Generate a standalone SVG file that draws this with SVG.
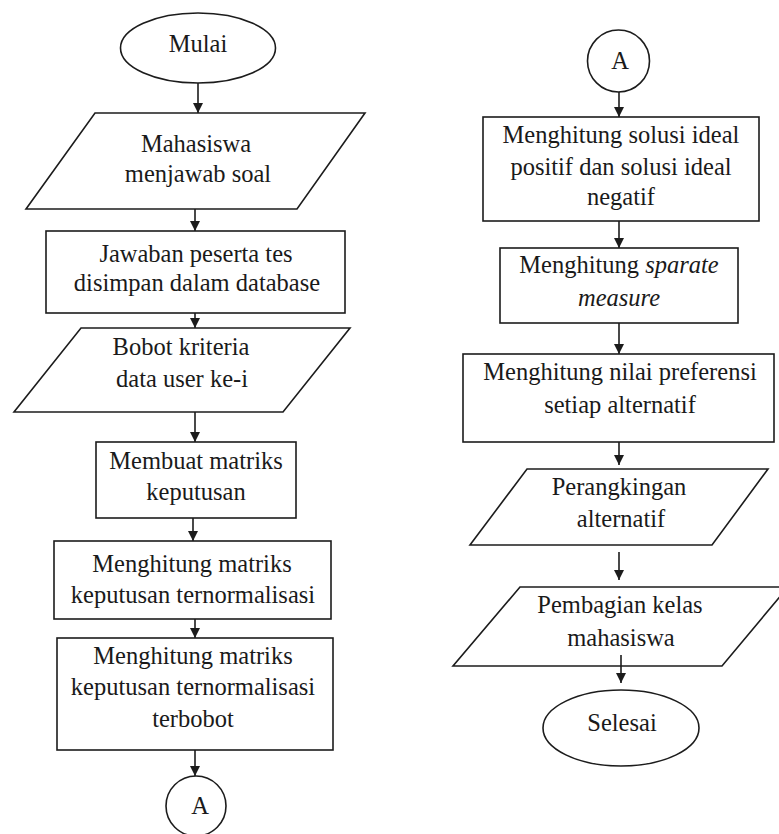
<svg xmlns="http://www.w3.org/2000/svg" width="779" height="834" viewBox="0 0 779 834">
  <style>
    .shape { fill: #ffffff; stroke: #1c1c1c; stroke-width: 1.6; }
    .label { font-family: 'Liberation Serif', 'DejaVu Serif', serif; font-size: 24.5px; fill: #1a1a1a; text-anchor: middle; }
    .it { font-style: italic; }
    .link { stroke: #1c1c1c; stroke-width: 1.6; fill: none; marker-end: url(#head); }
  </style>
  <defs>
    <marker id="head" markerUnits="userSpaceOnUse" markerWidth="10" markerHeight="10" refX="10" refY="5" orient="auto" viewBox="0 0 10 10">
      <path d="M0,0 L10,5 L0,10 z" fill="#1c1c1c"/>
    </marker>
  </defs>
  <rect width="779" height="834" fill="#ffffff"/>

  <!-- left column -->
  <g id="mulai">
    <ellipse class="shape" cx="198" cy="48" rx="77.5" ry="35"/>
    <text class="label" x="198" y="52">Mulai</text>
  </g>
  <g id="mahasiswa-menjawab">
    <polygon class="shape" points="95,113 365,113 297,209 26,209"/>
    <text class="label" x="196" y="152">Mahasiswa</text>
    <text class="label" x="198" y="182">menjawab soal</text>
  </g>
  <g id="jawaban-disimpan">
    <rect class="shape" x="46" y="231" width="299" height="82"/>
    <text class="label" x="196" y="262">Jawaban peserta tes</text>
    <text class="label" x="197" y="291">disimpan dalam database</text>
  </g>
  <g id="bobot-kriteria">
    <polygon class="shape" points="81,328 350,328 283,412 14,412"/>
    <text class="label" x="181" y="355">Bobot kriteria</text>
    <text class="label" x="182" y="387">data user ke-i</text>
  </g>
  <g id="matriks-keputusan">
    <rect class="shape" x="96" y="442" width="200" height="76"/>
    <text class="label" x="196" y="469">Membuat matriks</text>
    <text class="label" x="196" y="500">keputusan</text>
  </g>
  <g id="matriks-normalisasi">
    <rect class="shape" x="54" y="541" width="277" height="78"/>
    <text class="label" x="192" y="572">Menghitung matriks</text>
    <text class="label" x="193" y="603">keputusan ternormalisasi</text>
  </g>
  <g id="matriks-terbobot">
    <rect class="shape" x="57" y="638" width="276" height="112"/>
    <text class="label" x="193" y="664">Menghitung matriks</text>
    <text class="label" x="193" y="695">keputusan ternormalisasi</text>
    <text class="label" x="193" y="727">terbobot</text>
  </g>
  <g id="konektor-a-keluar">
    <circle class="shape" cx="196" cy="806" r="30"/>
    <text class="label" x="200" y="814">A</text>
  </g>

  <!-- right column -->
  <g id="konektor-a-masuk">
    <circle class="shape" cx="618.5" cy="61" r="31"/>
    <text class="label" x="620" y="69">A</text>
  </g>
  <g id="solusi-ideal">
    <rect class="shape" x="483" y="117" width="276" height="104"/>
    <text class="label" x="621" y="143">Menghitung solusi ideal</text>
    <text class="label" x="621" y="175">positif dan solusi ideal</text>
    <text class="label" x="621" y="205">negatif</text>
  </g>
  <g id="separate-measure">
    <rect class="shape" x="500" y="248" width="238" height="75"/>
    <text class="label" x="619" y="273">Menghitung <tspan class="it">sparate</tspan></text>
    <text class="label it" x="619" y="306">measure</text>
  </g>
  <g id="nilai-preferensi">
    <rect class="shape" x="463" y="354" width="311" height="88"/>
    <text class="label" x="620" y="380">Menghitung nilai preferensi</text>
    <text class="label" x="620" y="413">setiap alternatif</text>
  </g>
  <g id="perangkingan">
    <polygon class="shape" points="527,469 768,469 712,545 470,545"/>
    <text class="label" x="619" y="495">Perangkingan</text>
    <text class="label" x="621" y="527">alternatif</text>
  </g>
  <g id="pembagian-kelas">
    <polygon class="shape" points="520,587 788,587 722,666 453,666"/>
    <text class="label" x="620" y="613">Pembagian kelas</text>
    <text class="label" x="621" y="646">mahasiswa</text>
  </g>
  <g id="selesai">
    <ellipse class="shape" cx="621" cy="728" rx="78" ry="38"/>
    <text class="label" x="622" y="731">Selesai</text>
  </g>

  <!-- flow lines -->
  <g id="connectors">
    <line class="link" x1="198" y1="83" x2="198" y2="113"/>
    <line class="link" x1="195" y1="209" x2="195" y2="231"/>
    <line class="link" x1="195" y1="313" x2="195" y2="328"/>
    <line class="link" x1="195" y1="412" x2="195" y2="442"/>
    <line class="link" x1="193" y1="518" x2="193" y2="541"/>
    <line class="link" x1="195" y1="619" x2="195" y2="638"/>
    <line class="link" x1="195" y1="750" x2="195" y2="776"/>
    <line class="link" x1="619" y1="92" x2="619" y2="117"/>
    <line class="link" x1="619" y1="221" x2="619" y2="248"/>
    <line class="link" x1="619" y1="323" x2="619" y2="354"/>
    <line class="link" x1="619" y1="442" x2="619" y2="465"/>
    <line class="link" x1="619" y1="552" x2="619" y2="580"/>
    <line class="link" x1="621" y1="655" x2="621" y2="683"/>
  </g>
</svg>
